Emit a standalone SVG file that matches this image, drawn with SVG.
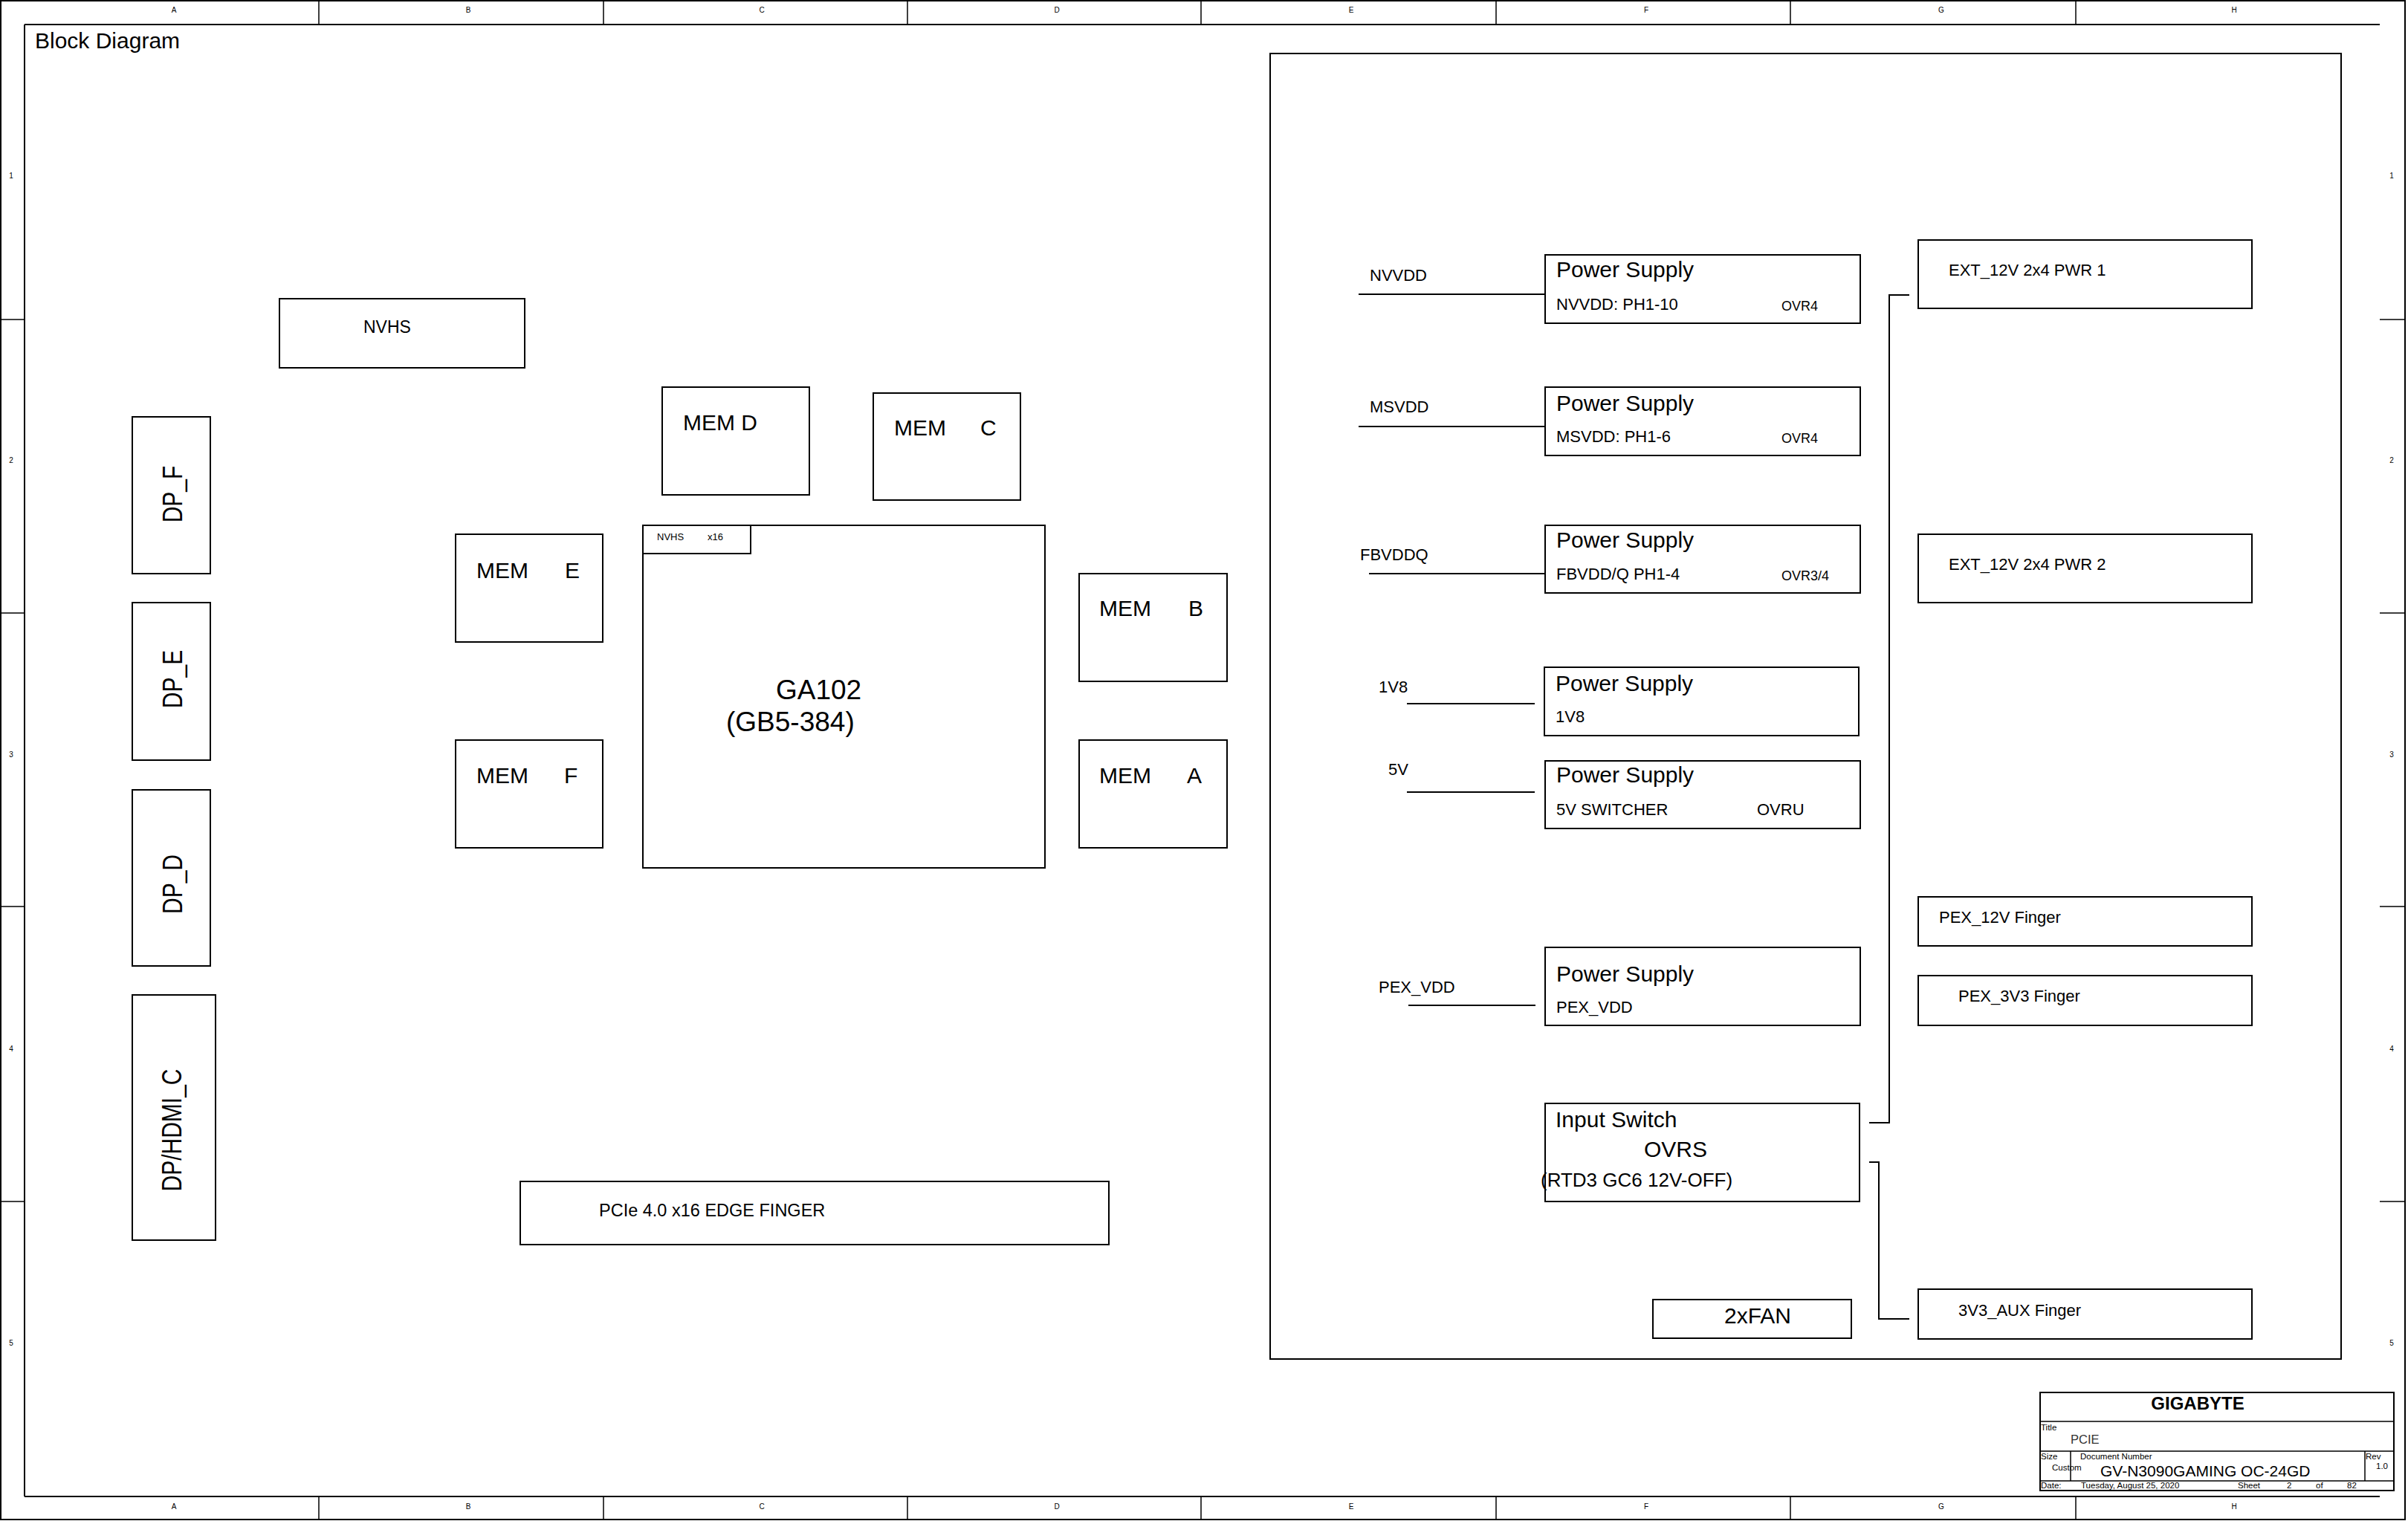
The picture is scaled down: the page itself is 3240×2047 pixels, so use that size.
<svg xmlns="http://www.w3.org/2000/svg" width="3240" height="2047" viewBox="0 0 3240 2047">
<style>
text{font-family:"Liberation Sans",Arial,sans-serif;fill:#000}
.b{fill:none;stroke:#000;stroke-width:2}
.f{fill:none;stroke:#000;stroke-width:2}
.z{fill:none;stroke:#000;stroke-width:1.5}
.c{fill:none;stroke:#000;stroke-width:2}
.zl{font-size:10px;text-anchor:middle}
.t30{font-size:30px}
.t22{font-size:22px}
.t18{font-size:18px}
.tb{font-size:11.5px}
</style>
<rect x="0" y="0" width="3240" height="2047" fill="#fff"/>
<g id="frame">
<rect class="f" x="1" y="1" width="3235" height="2044"/>
<path class="f" d="M33,33 H3202 M33,33 V2014 M33,2014 H3202"/>
<path class="z" d="M429,1 V33 M812,1 V33 M1221,1 V33 M1616,1 V33 M2013,1 V33 M2409,1 V33 M2793,1 V33 M429,2014 V2045 M812,2014 V2045 M1221,2014 V2045 M1616,2014 V2045 M2013,2014 V2045 M2409,2014 V2045 M2793,2014 V2045 M1,430 H33 M1,825 H33 M1,1220 H33 M1,1617 H33 M3202,430 H3236 M3202,825 H3236 M3202,1220 H3236 M3202,1617 H3236"/>
<text class="zl" x="234" y="17">A</text><text class="zl" x="630" y="17">B</text><text class="zl" x="1025" y="17">C</text><text class="zl" x="1422" y="17">D</text><text class="zl" x="1818" y="17">E</text><text class="zl" x="2215" y="17">F</text><text class="zl" x="2612" y="17">G</text><text class="zl" x="3006" y="17">H</text>
<text class="zl" x="234" y="2031">A</text><text class="zl" x="630" y="2031">B</text><text class="zl" x="1025" y="2031">C</text><text class="zl" x="1422" y="2031">D</text><text class="zl" x="1818" y="2031">E</text><text class="zl" x="2215" y="2031">F</text><text class="zl" x="2612" y="2031">G</text><text class="zl" x="3006" y="2031">H</text>
<text class="zl" x="15" y="240">1</text><text class="zl" x="15" y="623">2</text><text class="zl" x="15" y="1019">3</text><text class="zl" x="15" y="1415">4</text><text class="zl" x="15" y="1811">5</text>
<text class="zl" x="3218" y="240">1</text><text class="zl" x="3218" y="623">2</text><text class="zl" x="3218" y="1019">3</text><text class="zl" x="3218" y="1415">4</text><text class="zl" x="3218" y="1811">5</text>
<text class="t30" x="47" y="65">Block Diagram</text>
<rect class="f" x="1709" y="72" width="1441" height="1757"/>
</g>
<g id="connectors">
<path class="c" d="M1828,396 H2079"/>
<path class="c" d="M1828,574 H2079"/>
<path class="c" d="M1842,772 H2079"/>
<path class="c" d="M1893,947 H2065"/>
<path class="c" d="M1893,1066 H2065"/>
<path class="c" d="M1895,1353 H2066"/>
<path class="c" d="M2569,397 H2542 V1511 H2515"/>
<path class="c" d="M2515,1564 H2528 V1775 H2569"/>
</g>
<g id="dp_f"><rect class="b" x="178" y="561" width="105" height="211"/><text class="t30" text-anchor="middle" transform="translate(245,665) rotate(-90) scale(1,1.2)">DP_F</text></g>
<g id="dp_e"><rect class="b" x="178" y="811" width="105" height="212"/><text class="t30" text-anchor="middle" transform="translate(245,914) rotate(-90) scale(1,1.2)">DP_E</text></g>
<g id="dp_d"><rect class="b" x="178" y="1063" width="105" height="237"/><text class="t30" text-anchor="middle" transform="translate(245,1190) rotate(-90) scale(1,1.2)">DP_D</text></g>
<g id="dp_hdmi_c"><rect class="b" x="178" y="1339" width="112" height="330"/><text class="t30" text-anchor="middle" transform="translate(244,1521) rotate(-90) scale(1,1.2)">DP/HDMI_C</text></g>
<g id="nvhs"><rect class="b" x="376" y="402" width="330" height="93"/><text style="font-size:23px" x="489" y="448">NVHS</text></g>
<g id="mem_d"><rect class="b" x="891" y="521" width="198" height="145"/><text class="t30" x="919" y="579">MEM D</text></g>
<g id="mem_c"><rect class="b" x="1175" y="529" width="198" height="144"/><text class="t30" x="1203" y="586">MEM<tspan x="1319">C</tspan></text></g>
<g id="mem_e"><rect class="b" x="613" y="719" width="198" height="145"/><text class="t30" x="641" y="778">MEM<tspan x="760">E</tspan></text></g>
<g id="mem_f"><rect class="b" x="613" y="996" width="198" height="145"/><text class="t30" x="641" y="1054">MEM<tspan x="759">F</tspan></text></g>
<g id="mem_b"><rect class="b" x="1452" y="772" width="199" height="145"/><text class="t30" x="1479" y="829">MEM<tspan x="1599">B</tspan></text></g>
<g id="mem_a"><rect class="b" x="1452" y="996" width="199" height="145"/><text class="t30" x="1479" y="1054">MEM<tspan x="1597">A</tspan></text></g>
<g id="ga102">
<rect class="b" x="865" y="707" width="541" height="461"/>
<rect class="b" x="865" y="707" width="145" height="38"/>
<text style="font-size:13px" x="884" y="727">NVHS<tspan x="952">x16</tspan></text>
<text style="font-size:37px" x="1044" y="941">GA102</text>
<text style="font-size:37px" x="977" y="984">(GB5-384)</text>
</g>
<g id="pcie_finger"><rect class="b" x="700" y="1590" width="792" height="85"/><text style="font-size:23.5px" x="806" y="1637">PCIe 4.0 x16 EDGE FINGER</text></g>
<g id="ps_nvvdd"><text class="t22" x="1843" y="378">NVVDD</text><rect class="b" x="2079" y="343" width="424" height="92"/><text class="t30" x="2094" y="373">Power Supply</text><text class="t22" x="2094" y="417">NVVDD: PH1-10</text><text class="t18" x="2397" y="418">OVR4</text></g>
<g id="ps_msvdd"><text class="t22" x="1843" y="555">MSVDD</text><rect class="b" x="2079" y="521" width="424" height="92"/><text class="t30" x="2094" y="553">Power Supply</text><text class="t22" x="2094" y="595">MSVDD: PH1-6</text><text class="t18" x="2397" y="596">OVR4</text></g>
<g id="ps_fbvddq"><text class="t22" x="1830" y="754">FBVDDQ</text><rect class="b" x="2079" y="707" width="424" height="91"/><text class="t30" x="2094" y="737">Power Supply</text><text class="t22" x="2094" y="780">FBVDD/Q PH1-4</text><text class="t18" x="2397" y="781">OVR3/4</text></g>
<g id="ps_1v8"><text class="t22" x="1855" y="932">1V8</text><rect class="b" x="2078" y="898" width="423" height="92"/><text class="t30" x="2093" y="930">Power Supply</text><text class="t22" x="2093" y="972">1V8</text></g>
<g id="ps_5v"><text class="t22" x="1868" y="1043">5V</text><rect class="b" x="2079" y="1024" width="424" height="91"/><text class="t30" x="2094" y="1053">Power Supply</text><text class="t22" x="2094" y="1097">5V SWITCHER</text><text class="t22" x="2364" y="1097">OVRU</text></g>
<g id="ps_pexvdd"><text class="t22" x="1855" y="1336">PEX_VDD</text><rect class="b" x="2079" y="1275" width="424" height="105"/><text class="t30" x="2094" y="1321">Power Supply</text><text class="t22" x="2094" y="1363">PEX_VDD</text></g>
<g id="input_switch"><rect class="b" x="2079" y="1485" width="423" height="132"/><text class="t30" x="2093" y="1517">Input Switch</text><text class="t30" x="2212" y="1557">OVRS</text><text style="font-size:26px" x="2073" y="1597">(RTD3 GC6 12V-OFF)</text></g>
<g id="fan"><rect class="b" x="2224" y="1749" width="267" height="52"/><text class="t30" x="2320" y="1781">2xFAN</text></g>
<g id="ext_pwr1"><rect class="b" x="2581" y="323" width="449" height="92"/><text class="t22" x="2622" y="371">EXT_12V 2x4 PWR 1</text></g>
<g id="ext_pwr2"><rect class="b" x="2581" y="719" width="449" height="92"/><text class="t22" x="2622" y="767">EXT_12V 2x4 PWR 2</text></g>
<g id="pex_12v"><rect class="b" x="2581" y="1207" width="449" height="66"/><text class="t22" x="2609" y="1242">PEX_12V Finger</text></g>
<g id="pex_3v3"><rect class="b" x="2581" y="1313" width="449" height="67"/><text class="t22" x="2635" y="1348">PEX_3V3 Finger</text></g>
<g id="aux_3v3"><rect class="b" x="2581" y="1735" width="449" height="67"/><text class="t22" x="2635" y="1771">3V3_AUX Finger</text></g>
<g id="title_block">
<rect class="f" x="2745" y="1874" width="476" height="132"/>
<path class="z" d="M2745,1913 H3221 M2745,1953 H3221 M2745,1993 H3221 M2786,1953 V1993 M3182,1953 V1993"/>
<text style="font-size:24px;font-weight:bold" x="2957" y="1897" text-anchor="middle">GIGABYTE</text>
<text class="tb" x="2746" y="1925">Title</text>
<text style="font-size:16.5px;fill:#333" x="2786" y="1943">PCIE</text>
<text class="tb" x="2746" y="1964">Size</text>
<text class="tb" x="2799" y="1964">Document Number</text>
<text class="tb" x="2761" y="1979">Custom</text>
<text style="font-size:21px" x="2826" y="1987">GV-N3090GAMING OC-24GD</text>
<text class="tb" x="3183" y="1964">Rev</text>
<text class="tb" x="3197" y="1977">1.0</text>
<text class="tb" x="2746" y="2003">Date:</text>
<text class="tb" x="2800" y="2003">Tuesday, August 25, 2020</text>
<text class="tb" x="3011" y="2003">Sheet</text>
<text class="tb" x="3077" y="2003">2</text>
<text class="tb" x="3116" y="2003">of</text>
<text class="tb" x="3158" y="2003">82</text>
</g>
</svg>
